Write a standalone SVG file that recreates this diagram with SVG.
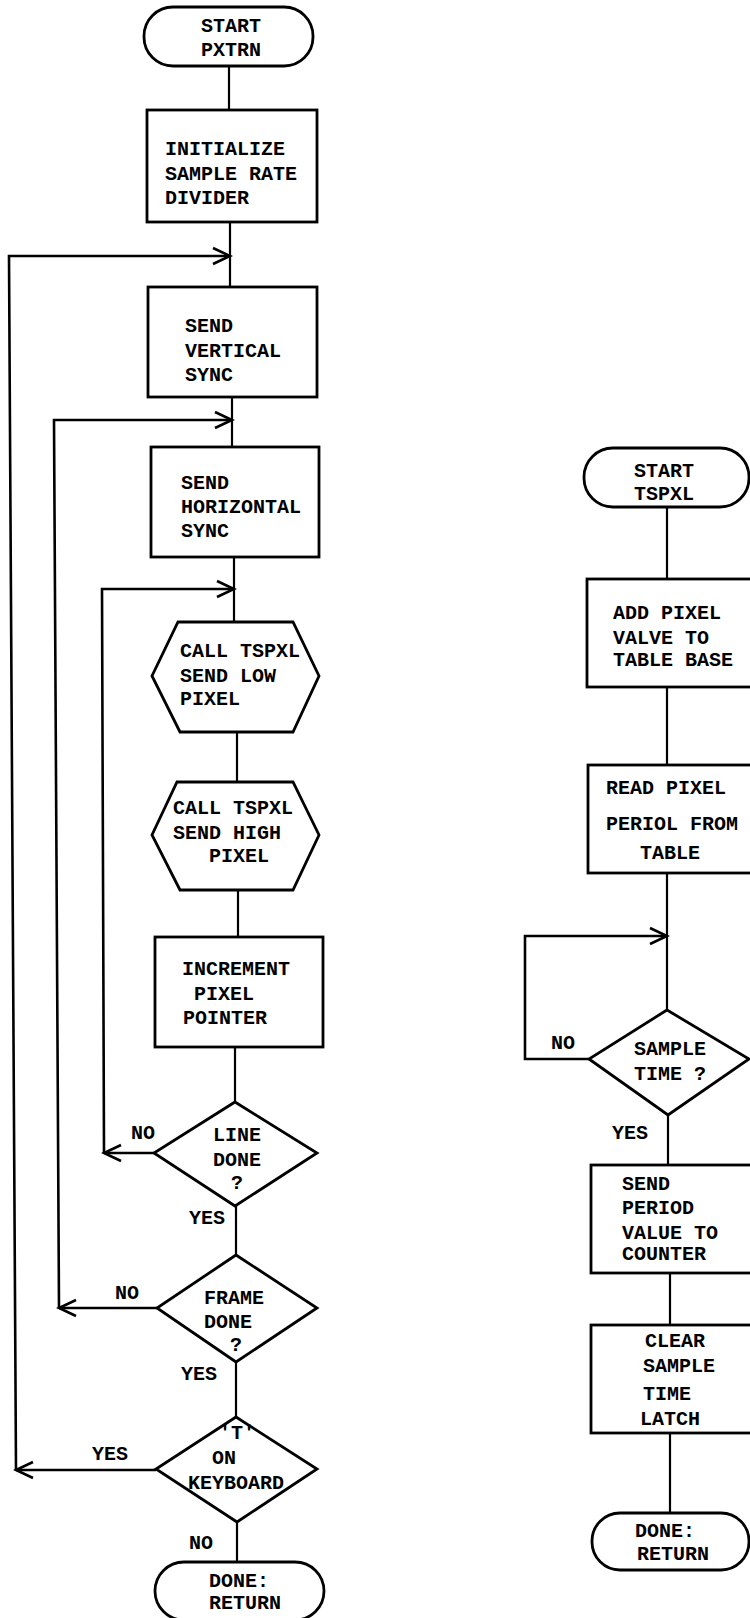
<svg xmlns="http://www.w3.org/2000/svg" width="750" height="1618" viewBox="0 0 750 1618">
<defs>
<marker id="ah" markerUnits="userSpaceOnUse" markerWidth="22" markerHeight="20" viewBox="0 0 22 20" refX="19" refY="10" orient="auto">
<path d="M2,2 L19,10 L2,18" fill="none" stroke="#000" stroke-width="2.6"/>
</marker>
<style>
.s{fill:#fff;stroke:#000;stroke-width:2.8}
.c{fill:none;stroke:#000;stroke-width:2.2}
.a{fill:none;stroke:#000;stroke-width:2.6}
text{font-family:"Liberation Mono","DejaVu Sans Mono",monospace;font-size:20px;font-weight:bold;fill:#000}
.m{text-anchor:middle}
</style>
</defs>
<rect width="750" height="1618" fill="#fff"/>
<g id="connectors">
<path class="c" d="M229,66 V110"/>
<path class="c" d="M230,222 V287"/>
<path class="c" d="M232,397 V447"/>
<path class="c" d="M234,557 V622"/>
<path class="c" d="M237,732 V782"/>
<path class="c" d="M238,890 V937"/>
<path class="c" d="M235,1047 V1102"/>
<path class="c" d="M236,1206 V1255"/>
<path class="c" d="M236,1362 V1417"/>
<path class="c" d="M237,1522 V1562"/>
<path class="a" d="M154,1153 H104" marker-end="url(#ah)"/>
<path class="a" d="M104,1153 L102,589 H234" marker-end="url(#ah)"/>
<path class="a" d="M157,1308 H59" marker-end="url(#ah)"/>
<path class="a" d="M59,1308 L54,420 H232" marker-end="url(#ah)"/>
<path class="a" d="M156,1470 H16" marker-end="url(#ah)"/>
<path class="a" d="M16,1470 L9,256 H230" marker-end="url(#ah)"/>
<path class="c" d="M667,507 V579"/>
<path class="c" d="M667,687 V765"/>
<path class="c" d="M667,873 V1010"/>
<path class="c" d="M668,1115 V1165"/>
<path class="c" d="M670,1273 V1325"/>
<path class="c" d="M670,1433 V1513"/>
<path class="a" d="M589,1059 H525 V936 H667" marker-end="url(#ah)"/>
</g>
<g id="start_pxtrn">
<rect class="s" x="144" y="7" width="169" height="59" rx="29"/>
<text class="m" x="231" y="32">START</text>
<text class="m" x="231" y="56">PXTRN</text>
</g>
<g id="init">
<rect class="s" x="147" y="110" width="170" height="112"/>
<text x="165" y="155">INITIALIZE</text>
<text x="165" y="180">SAMPLE RATE</text>
<text x="165" y="204">DIVIDER</text>
</g>
<g id="vsync">
<rect class="s" x="148" y="287" width="169" height="110"/>
<text x="185" y="332">SEND</text>
<text x="185" y="357">VERTICAL</text>
<text x="185" y="381">SYNC</text>
</g>
<g id="hsync">
<rect class="s" x="151" y="447" width="168" height="110"/>
<text x="181" y="489">SEND</text>
<text x="181" y="513">HORIZONTAL</text>
<text x="181" y="537">SYNC</text>
</g>
<g id="low_pixel">
<polygon class="s" points="178,622 293,622 319,676 293,732 180,732 152,676"/>
<text x="180" y="657">CALL TSPXL</text>
<text x="180" y="682">SEND LOW</text>
<text x="180" y="705">PIXEL</text>
</g>
<g id="high_pixel">
<polygon class="s" points="177,782 293,782 319,835 293,890 180,890 152,835"/>
<text x="173" y="814">CALL TSPXL</text>
<text x="173" y="839">SEND HIGH</text>
<text x="209" y="862">PIXEL</text>
</g>
<g id="increment">
<rect class="s" x="155" y="937" width="168" height="110"/>
<text x="182" y="975">INCREMENT</text>
<text x="194" y="1000">PIXEL</text>
<text x="183" y="1024">POINTER</text>
</g>
<g id="line_done">
<polygon class="s" points="235,1102 317,1153 235,1206 154,1153"/>
<text class="m" x="237" y="1141">LINE</text>
<text class="m" x="237" y="1166">DONE</text>
<text class="m" x="237" y="1189">?</text>
<text class="m" x="143" y="1139">NO</text>
<text class="m" x="207" y="1224">YES</text>
</g>
<g id="frame_done">
<polygon class="s" points="236,1255 317,1308 236,1362 157,1308"/>
<text class="m" x="234" y="1304">FRAME</text>
<text class="m" x="228" y="1328">DONE</text>
<text class="m" x="236" y="1351">?</text>
<text class="m" x="127" y="1299">NO</text>
<text class="m" x="199" y="1380">YES</text>
</g>
<g id="t_keyboard">
<polygon class="s" points="236,1417 317,1469 237,1522 156,1469"/>
<text class="m" x="237" y="1439">'T'</text>
<text class="m" x="224" y="1464">ON</text>
<text class="m" x="236" y="1489">KEYBOARD</text>
<text class="m" x="110" y="1460">YES</text>
<text class="m" x="201" y="1549">NO</text>
</g>
<g id="done_pxtrn">
<rect class="s" x="155" y="1562" width="169" height="58" rx="29"/>
<text x="209" y="1587">DONE:</text>
<text x="209" y="1609">RETURN</text>
</g>
<g id="start_tspxl">
<rect class="s" x="584" y="448" width="165" height="59" rx="29"/>
<text class="m" x="664" y="477">START</text>
<text class="m" x="664" y="500">TSPXL</text>
</g>
<g id="add_pixel">
<rect class="s" x="587" y="579" width="175" height="108"/>
<text x="613" y="619">ADD PIXEL</text>
<text x="613" y="644">VALVE TO</text>
<text x="613" y="666">TABLE BASE</text>
</g>
<g id="read_pixel">
<rect class="s" x="588" y="765" width="175" height="108"/>
<text x="606" y="794">READ PIXEL</text>
<text x="606" y="830">PERIOL FROM</text>
<text class="m" x="670" y="859">TABLE</text>
</g>
<g id="sample_time">
<polygon class="s" points="667,1010 749,1059 668,1115 589,1059"/>
<text x="634" y="1055">SAMPLE</text>
<text x="634" y="1080">TIME ?</text>
<text class="m" x="563" y="1049">NO</text>
<text class="m" x="630" y="1139">YES</text>
</g>
<g id="send_period">
<rect class="s" x="591" y="1165" width="175" height="108"/>
<text x="622" y="1190">SEND</text>
<text x="622" y="1214">PERIOD</text>
<text x="622" y="1239">VALUE TO</text>
<text x="622" y="1260">COUNTER</text>
</g>
<g id="clear_latch">
<rect class="s" x="591" y="1325" width="175" height="108"/>
<text x="645" y="1347">CLEAR</text>
<text x="643" y="1372">SAMPLE</text>
<text x="643" y="1400">TIME</text>
<text x="640" y="1425">LATCH</text>
</g>
<g id="done_tspxl">
<rect class="s" x="592" y="1513" width="157" height="57" rx="28"/>
<text x="635" y="1537">DONE:</text>
<text x="637" y="1560">RETURN</text>
</g>
</svg>
